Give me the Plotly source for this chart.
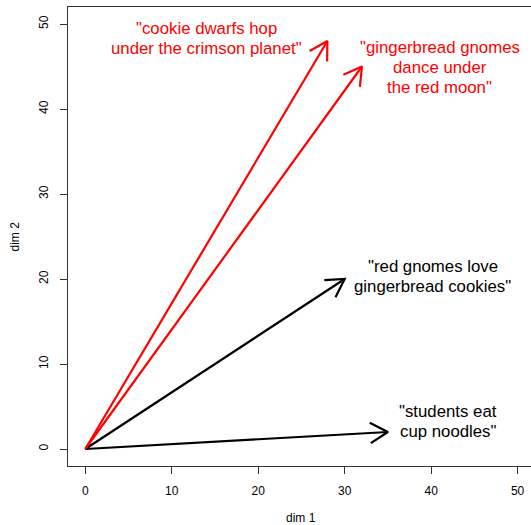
import math
import plotly.graph_objects as go

# ---- data ----
phrases = [
    '"students eat\ncup noodles"',
    '"red gnomes love\ngingerbread cookies"',
    '"cookie dwarfs hop\nunder the crimson planet"',
    '"gingerbread gnomes\ndance under\nthe red moon"',
]
dim1 = [35, 30, 28, 32]
dim2 = [2, 20, 48, 45]
label_x = [42, 40.2, 14, 41]
label_y = [3.25, 20.25, 48.3, 44.85]
group = ["plain", "plain", "red", "red"]
x_ticks = [0, 10, 20, 30, 40, 50]
y_ticks = [0, 10, 20, 30, 40, 50]

# ---- styling ----
colour = {"plain": "#000000", "red": "#ff0000"}
FONT = "Liberation Sans, Arial, sans-serif"
W, H = 531, 525
ML, MT, MB, MR = 68, 7, 59, 0
x_range = [-2, 51.55]
y_range = [-2, 52]
px_x = (W - ML - MR) / (x_range[1] - x_range[0])
px_y = (H - MT - MB) / (y_range[1] - y_range[0])
HEAD_LEN = 20.4  # pixels
HEAD_ANG = math.radians(30)
LINE_GAP = 20.2  # pixels between text lines

fig = go.Figure()

for x1, y1, g in zip(dim1, dim2, group):
    c = colour[g]
    fig.add_trace(go.Scatter(x=[0, x1], y=[0, y1], mode="lines",
                             line=dict(color=c, width=2.2),
                             hoverinfo="skip", showlegend=False))
    # open arrow head computed in pixel space
    ux, uy = x1 * px_x, y1 * px_y
    n = math.hypot(ux, uy)
    ux, uy = ux / n, uy / n
    pts = []
    for s in (1, -1):
        a = s * HEAD_ANG
        rx = ux * math.cos(a) - uy * math.sin(a)
        ry = ux * math.sin(a) + uy * math.cos(a)
        pts.append((x1 - HEAD_LEN * rx / px_x, y1 - HEAD_LEN * ry / px_y))
    fig.add_trace(go.Scatter(x=[pts[0][0], x1, pts[1][0]],
                             y=[pts[0][1], y1, pts[1][1]], mode="lines",
                             line=dict(color=c, width=2.2),
                             hoverinfo="skip", showlegend=False))

for t, lx, ly, g in zip(phrases, label_x, label_y, group):
    lines = t.split("\n")
    mid = (len(lines) - 1) / 2
    for i, ln in enumerate(lines):
        fig.add_annotation(x=lx, y=ly, xref="x", yref="y", text=ln, showarrow=False,
                           xanchor="center", yanchor="middle", align="center",
                           yshift=(mid - i) * LINE_GAP,
                           font=dict(family=FONT, size=16.8, color=colour[g]))

# axis titles
fig.add_annotation(x=(301 - ML) / (W - ML - MR), y=-(518 - (H - MB)) / (H - MT - MB),
                   xref="paper", yref="paper", text="dim 1", showarrow=False,
                   xanchor="center", yanchor="middle",
                   font=dict(family=FONT, size=12, color="#000"))
fig.add_annotation(x=-(ML - 14) / (W - ML - MR), y=0.5,
                   xref="paper", yref="paper", text="dim 2", showarrow=False,
                   textangle=-90, xanchor="center", yanchor="middle",
                   font=dict(family=FONT, size=12, color="#000"))

axis_common = dict(showgrid=False, zeroline=False, showline=True, mirror=True,
                   linecolor="#333", linewidth=1, ticks="outside", ticklen=7,
                   tickcolor="#333", tickwidth=1, ticklabelstandoff=7,
                   tickfont=dict(family=FONT, size=12, color="#000"))

fig.update_layout(
    width=W, height=H,
    margin=dict(l=ML, r=MR, t=MT, b=MB, pad=0),
    paper_bgcolor="white", plot_bgcolor="white",
    showlegend=False,
    xaxis=dict(range=x_range, tickvals=x_ticks, ticktext=[str(v) for v in x_ticks],
               **axis_common),
    yaxis=dict(range=y_range, tickvals=y_ticks, ticktext=[str(v) for v in y_ticks],
               tickangle=-90, **axis_common),
)

fig.write_html("out.html", config={"displayModeBar": False},
               post_script="document.body.style.margin='0';")
